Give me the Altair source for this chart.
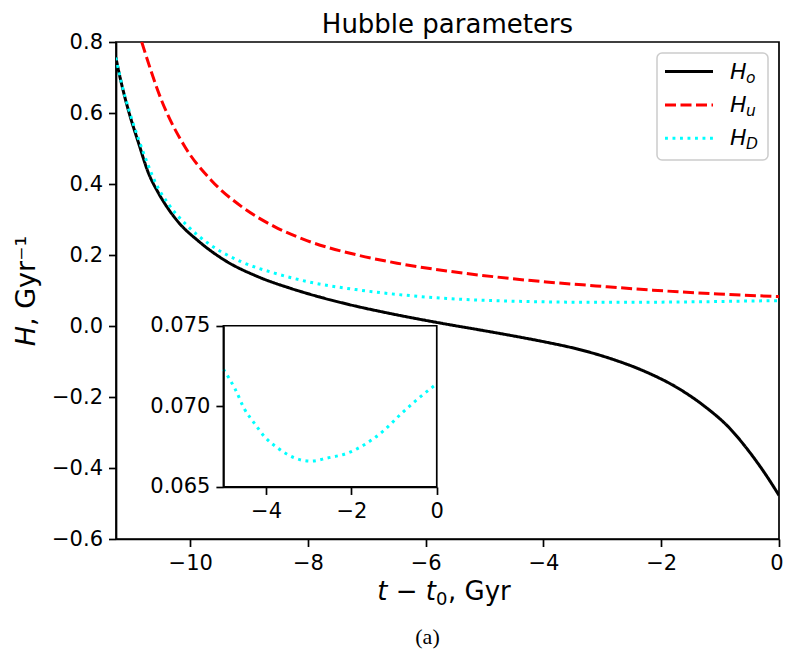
import altair as alt
import pandas as pd

# ---------------- data ----------------
t_o = [-11.262, -11.216, -11.160, -11.047, -10.878, -10.709, -10.541, -10.372,
       -10.203, -9.865, -9.422, -8.851, -8.294, -7.720, -7.162, -6.774, -6.199,
       -5.642, -5.084, -4.510, -4.003, -3.395, -2.821, -2.264, -1.706, -1.250,
       -0.861, -0.524, -0.236, 0.0]
H_o = [0.756, 0.719, 0.678, 0.606, 0.516, 0.431, 0.375, 0.330,
       0.293, 0.240, 0.186, 0.139, 0.106, 0.078, 0.055, 0.041, 0.022,
       0.005, -0.011, -0.028, -0.044, -0.066, -0.094, -0.129, -0.176, -0.228,
       -0.284, -0.350, -0.416, -0.477]

t_u = [-10.823, -10.485, -10.090, -9.640, -9.133, -8.569, -8.007, -7.162,
       -6.486, -5.642, -4.797, -3.953, -3.108, -2.145, -1.030, 0.0]
H_u = [0.800, 0.635, 0.505, 0.410, 0.337, 0.280, 0.240, 0.200,
       0.177, 0.155, 0.138, 0.124, 0.113, 0.101, 0.090, 0.083]

t_D = [-11.262, -11.160, -11.047, -10.878, -10.709, -10.596, -10.372, -10.034,
       -9.696, -9.133, -8.569, -8.007, -7.162, -6.486, -5.642,
       -5.00, -4.73, -4.50, -4.26, -4.03, -3.72, -3.33, -2.95, -2.56, -2.09,
       -1.71, -1.24, -0.85, -0.47, 0.0]
H_D = [0.756, 0.680, 0.612, 0.527, 0.451, 0.406, 0.344, 0.280,
       0.233, 0.181, 0.149, 0.125, 0.102, 0.089, 0.0775,
       0.0723, 0.0711, 0.0698, 0.0689, 0.0681, 0.0674, 0.0668, 0.0666, 0.0668, 0.0671,
       0.0676, 0.0685, 0.0695, 0.0704, 0.0714]

x_domain = [-11.26, 0.0]
y_domain = [-0.6, 0.8]
x_ticks = [-10, -8, -6, -4, -2, 0]
y_ticks = [-0.6, -0.4, -0.2, 0.0, 0.2, 0.4, 0.6, 0.8]

inset_xlim = [-5.0, 0.0]
inset_ylim = [0.065, 0.075]
inset_xticks = [-4, -2, 0]
inset_yticks = [0.065, 0.070, 0.075]

series_names = ["o", "u", "D"]
series_colors = ["#000000", "#ff0000", "#00ffff"]
series_dashes = [[1, 0], [11, 4.5], [2.9, 4.6]]

title_text = "Hubble parameters"
caption_text = "(a)"

# ---------------- layout ----------------
W, H = 663, 497
FONT = "DejaVu Sans"
LW = 3.0
CX = W / 2

df_o = pd.DataFrame({"t": t_o, "H": H_o})
df_u = pd.DataFrame({"t": t_u, "H": H_u})
df_D = pd.DataFrame({"t": t_D, "H": H_D})

axis_common = dict(
    title=None, grid=False, labelFontSize=21, labelFont=FONT, labelColor="black",
    tickColor="black", domainColor="black", tickSize=7.5, tickWidth=1.7,
    domainWidth=1.7, labelPadding=6, labelFlush=False, labelOverlap=False,
    labelBound=False,
)

xs = alt.X("t:Q", scale=alt.Scale(domain=x_domain, nice=False, zero=False),
           axis=alt.Axis(values=x_ticks, format="d",
                         labelOffset=alt.condition("datum.value == 0",
                                                   alt.value(-2.5), alt.value(0)),
                         **axis_common))
ys = alt.Y("H:Q", scale=alt.Scale(domain=y_domain, nice=False, zero=False),
           axis=alt.Axis(values=y_ticks, format=".1f", **axis_common))


def line(df, i, interp="monotone"):
    return alt.Chart(df).mark_line(
        color=series_colors[i], strokeWidth=LW, strokeDash=series_dashes[i],
        strokeCap="butt", clip=True, interpolate=interp
    ).encode(x=xs, y=ys, order="t:Q")


main = alt.layer(line(df_o, 0), line(df_u, 1), line(df_D, 2))

# ---------------- inset (placed in axes fractions) ----------------
ix_px = [0.162 * W, 0.4838 * W]
iy_px = [0.8953 * H, 0.5709 * H]
ixs = alt.Scale(domain=inset_xlim, range=ix_px, nice=False, zero=False)
iys = alt.Scale(domain=inset_ylim, range=iy_px, nice=False, zero=False)
inset_axis = dict(axis_common)
inset_axis["zindex"] = 1

box_df = pd.DataFrame({"x1": [inset_xlim[0]], "x2": [inset_xlim[1]],
                       "y1": [inset_ylim[0]], "y2": [inset_ylim[1]]})
inset_box = alt.Chart(box_df).mark_rect(
    fill="white", stroke="black", strokeWidth=1.7
).encode(
    x=alt.X("x1:Q", scale=ixs,
            axis=alt.Axis(values=inset_xticks, format="d", orient="bottom",
                          offset=iy_px[0] - H, **inset_axis)),
    x2="x2:Q",
    y=alt.Y("y1:Q", scale=iys,
            axis=alt.Axis(values=inset_yticks, format=".3f", orient="left",
                          offset=-ix_px[0], **inset_axis)),
    y2="y2:Q",
)
inset_line = alt.Chart(df_D).transform_filter(
    alt.datum.t >= inset_xlim[0]
).mark_line(
    color=series_colors[2], strokeWidth=LW, strokeDash=series_dashes[2],
    strokeCap="butt", clip=False, interpolate="monotone"
).encode(x=alt.X("t:Q", scale=ixs), y=alt.Y("H:Q", scale=iys), order="t:Q")
inset = alt.layer(inset_box, inset_line)

# ---------------- text decorations ----------------
one = pd.DataFrame({"k": [0]})


def txt(s, x, y, size, style="normal", align="center", angle=0, font=FONT,
        baseline="alphabetic"):
    kw = dict(text=s, fontSize=size, font=font, fontStyle=style, align=align,
              baseline=baseline, color="black")
    if angle:
        kw["angle"] = angle
    return alt.Chart(one).mark_text(**kw).encode(x=alt.value(x), y=alt.value(y))


deco = [
    txt(title_text, CX, -9, 26),
    # x axis title: t − t0, Gyr
    txt("t − t", CX - 11.5, 558, 26, style="italic", align="right"),
    txt("0", CX - 11.5, 563, 18, align="left"),
    txt(", Gyr", CX + 0.5, 558, 26, align="left"),
    # y axis title: H, Gyr^-1
    txt("H", -81, 284, 27, style="italic", align="right", angle=270),
    txt(", Gyr⁻¹", -81, 284, 27, align="left", angle=270),
    txt(caption_text, CX - 20, 602, 22, font="Liberation Serif"),
]

# legend (anchored to the upper-right corner of the axes)
leg_box = alt.Chart(one).mark_rect(
    fill="white", fillOpacity=0.8, stroke="#cccccc", strokeWidth=1.5, cornerRadius=5
).encode(x=alt.value(W - 122), x2=alt.value(W - 11), y=alt.value(11), y2=alt.value(118))
legend = [leg_box]
leg_y = [29.5, 63.0, 96.3]
for i, nm in enumerate(series_names):
    legend.append(
        alt.Chart(one).mark_rule(
            color=series_colors[i], strokeWidth=LW, strokeDash=series_dashes[i],
            strokeCap="butt"
        ).encode(x=alt.value(W - 114), x2=alt.value(W - 66), y=alt.value(leg_y[i]))
    )
    legend.append(txt("H", W - 49, leg_y[i] + 7, 22, style="italic", align="left"))
    legend.append(txt(nm, W - 33, leg_y[i] + 11, 15.5, style="italic", align="left"))

chart = alt.layer(main, inset, *deco, *legend).resolve_scale(
    x="independent", y="independent"
).properties(
    width=W, height=H,
    autosize=alt.AutoSizeParams(type="none"),
    padding={"left": 108, "top": 34, "right": 5, "bottom": 110},
).configure_view(stroke="black", strokeWidth=1.7)

chart.save("out.html", embed_options={"renderer": "svg", "actions": False})
